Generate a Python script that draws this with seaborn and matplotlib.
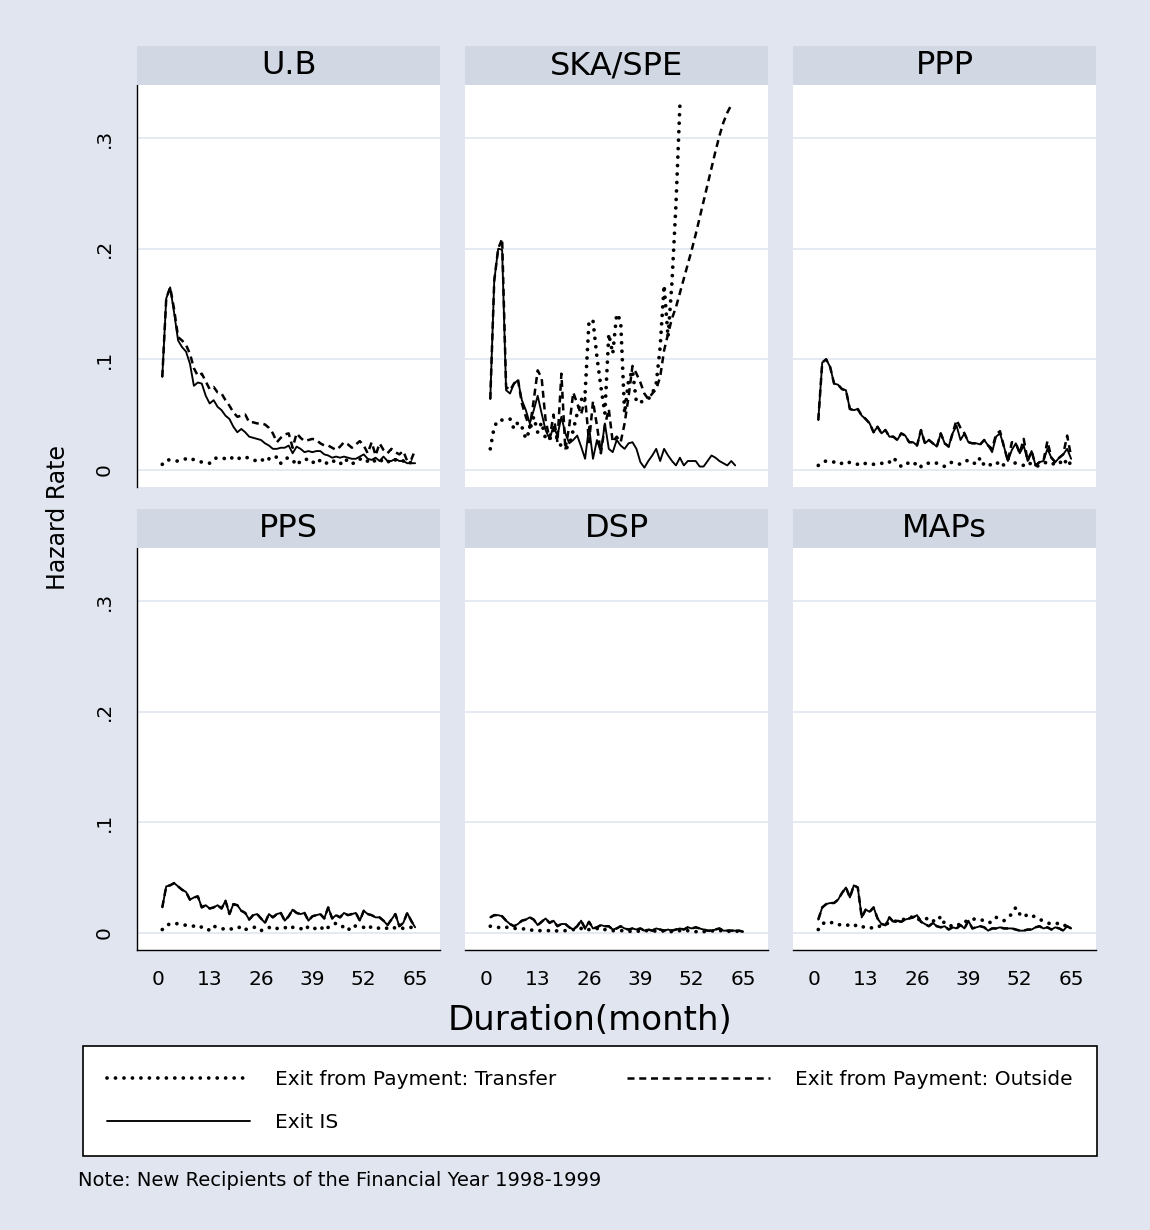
import numpy as np
import pandas as pd
import matplotlib.pyplot as plt
from matplotlib.lines import Line2D
import seaborn as sns

nan = np.nan
months = list(range(1, 66))
panels = ['U.B', 'SKA/SPE', 'PPP', 'PPS', 'DSP', 'MAPs']
series = ['Exit from Payment: Transfer', 'Exit from Payment: Outside', 'Exit IS']

ub_transfer = [.005, .009, .009, .008, .008, .009, .010, .011, .009, .008,
               .007, .007, .006, .010, .011, .011, .010, .009, .012, .010,
               .011, .012, .010, .009, .008, .010, .007, .010, .009, .012,
               .006, .010, .011, .009, .004, .008, .010, .009, .006, .010,
               .008, .005, .007, .009, .006, .005, .010, .008, .005, .008,
               .010, .007, .008, .006, .009, .007, .010, .008, .006, .009,
               .010, .008, .009, .006, .005]
ub_outside = [.084, .155, .165, .145, .120, .117, .113, .105, .092, .085,
              .087, .080, .073, .075, .070, .069, .063, .058, .052, .048,
              .049, .050, .043, .043, .042, .042, .041, .038, .033, .025,
              .029, .032, .033, .020, .033, .029, .026, .027, .028, .027,
              .024, .022, .022, .020, .018, .021, .025, .023, .020, .023,
              .026, .022, .015, .025, .013, .024, .018, .015, .019, .016,
              .014, .017, .008, .009, .018]
ub_exit = [.084, .155, .165, .142, .117, .111, .107, .096, .076, .079,
           .078, .067, .060, .063, .057, .054, .049, .046, .039, .034,
           .037, .034, .030, .029, .028, .027, .024, .022, .019, .019,
           .020, .020, .022, .015, .021, .019, .016, .017, .016, .017,
           .017, .014, .013, .011, .012, .011, .012, .011, .010, .010,
           .012, .014, .010, .009, .011, .008, .012, .008, .008, .010,
           .008, .008, .006, .006, .006]

ska_transfer = [.019, .039, .045, .045, .046, .046, .037, .043, .039, .028,
                .036, .048, .034, .043, .028, .027, .036, .028, .021, .019,
                .022, .036, .051, .063, .069, .135, .135, .102, .075, .051,
                .123, .105, .141, .135, .051, .081, .090, .061, .061, .063,
                .064, .069, .078, .111, .167, .120, .170, .240, .330] + [nan] * 16
ska_outside = [.064, .171, .200, .209, .075, .072, .078, .082, .060, .048,
               .038, .063, .090, .083, .045, .028, .050, .025, .087, .018,
               .040, .070, .060, .050, .065, .025, .062, .040, .015, .040,
               .055, .025, .030, .025, .042, .066, .094, .087, .079, .069,
               .064, .069, .073, .084, .108, .123, .137, .147, .160, .173,
               .186, .199, .213, .228, .243, .258, .273, .288, .302, .314,
               .323, .330] + [nan] * 3
ska_exit = [.064, .171, .200, .199, .072, .069, .078, .081, .063, .054,
            .042, .054, .067, .051, .036, .028, .039, .031, .048, .033,
            .024, .027, .031, .021, .010, .039, .010, .027, .016, .042,
            .019, .016, .027, .022, .019, .024, .025, .019, .007, .002,
            .008, .013, .019, .008, .019, .013, .008, .004, .011, .004,
            .008, .008, .008, .003, .003, .008, .013, .011, .008, .006,
            .004, .008, .004] + [nan] * 2

ppp_transfer = [.004, .007, .008, .008, .007, .005, .006, .005, .007, .006,
                .005, .004, .006, .006, .005, .005, .006, .005, .007, .011,
                .007, .003, .006, .006, .004, .007, .003, .006, .006, .007,
                .006, .005, .003, .006, .007, .006, .005, .007, .009, .007,
                .005, .011, .004, .003, .006, .005, .008, .004, .010, .007,
                .006, .005, .004, .007, .005, .003, .004, .006, .007, .005,
                .006, .008, .004, .010, .004]
ppp_outside = [.045, .097, .100, .093, .078, .077, .073, .072, .055, .054,
               .055, .049, .046, .042, .034, .039, .033, .036, .030, .030,
               .027, .033, .031, .025, .025, .022, .036, .024, .027, .024,
               .021, .033, .024, .021, .033, .045, .038, .033, .025, .024,
               .024, .023, .027, .022, .019, .032, .035, .021, .008, .025,
               .024, .015, .028, .008, .017, .004, .007, .008, .026, .011,
               .007, .011, .014, .031, .012]
ppp_exit = [.045, .097, .100, .093, .078, .077, .073, .072, .055, .054,
            .055, .049, .046, .042, .034, .039, .033, .036, .030, .030,
            .027, .033, .031, .025, .025, .022, .036, .024, .027, .024,
            .021, .033, .024, .021, .033, .040, .027, .033, .025, .024,
            .024, .023, .027, .022, .016, .030, .033, .021, .008, .018,
            .024, .015, .022, .008, .017, .004, .007, .008, .019, .011,
            .007, .011, .014, .019, .010]

pps_transfer = [.003, .007, .008, .009, .008, .007, .007, .007, .006, .007,
                .005, .005, .002, .006, .005, .004, .003, .004, .003, .004,
                .006, .003, .004, .005, .005, .002, .004, .005, .003, .004,
                .004, .005, .003, .005, .005, .004, .002, .006, .004, .004,
                .006, .002, .005, .006, .009, .007, .005, .002, .007, .006,
                .005, .005, .003, .006, .005, .004, .005, .004, .003, .005,
                .005, .004, .004, .005, .003]
pps_exit = [.023, .042, .043, .045, .042, .039, .037, .030, .032, .033,
            .023, .025, .022, .023, .025, .022, .029, .017, .026, .025,
            .020, .018, .012, .016, .017, .013, .009, .017, .014, .017,
            .018, .011, .015, .021, .018, .017, .018, .011, .015, .016,
            .017, .013, .023, .013, .016, .014, .018, .016, .017, .018,
            .011, .020, .017, .016, .014, .014, .011, .007, .012, .017,
            .006, .009, .018, .011, .005]
# the Outside curve sits right under Exit IS in these panels
pps_outside = list(pps_exit)

dsp_transfer = [.006, .005, .005, .004, .005, .005, .004, .004, .004, .003,
                .002, .003, .002, .002, .002, .002, .001, .002, .002, .002,
                .002, .003, .002, .004, .002, .003, .003, .004, .002, .003,
                .002, .002, .002, .002, .002, .001, .002, .002, .001, .002,
                .002, .001, .002, .001, .002, .002, .001, .002, .002, .001,
                .002, .002, .001, .002, .001, .002, .002, .001, .002, .002,
                .001, .002, .001, .002, .001]
dsp_exit = [.014, .016, .016, .015, .011, .008, .006, .008, .011, .012,
            .014, .012, .007, .010, .013, .009, .011, .006, .008, .008,
            .005, .003, .006, .011, .004, .010, .004, .005, .007, .006,
            .006, .003, .004, .006, .004, .003, .004, .003, .004, .002,
            .003, .002, .004, .003, .002, .003, .002, .003, .004, .003,
            .005, .004, .005, .004, .003, .002, .002, .003, .004, .002,
            .002, .002, .002, .002, .001]
dsp_outside = list(dsp_exit)

maps_transfer = [.003, .008, .010, .010, .008, .007, .008, .007, .007, .008,
                 .005, .005, .006, .005, .004, .005, .007, .008, .009, .010,
                 .011, .011, .013, .013, .015, .013, .011, .012, .014, .011,
                 .010, .015, .008, .007, .006, .008, .007, .010, .011, .012,
                 .013, .012, .011, .009, .010, .014, .013, .011, .014, .017,
                 .023, .017, .014, .017, .016, .014, .012, .011, .009, .008,
                 .008, .009, .008, .005, .002]
maps_exit = [.012, .023, .026, .027, .027, .030, .036, .041, .032, .043,
             .041, .014, .021, .019, .023, .013, .008, .007, .014, .010,
             .011, .010, .012, .013, .014, .016, .010, .008, .006, .009,
             .006, .005, .006, .003, .005, .004, .007, .004, .011, .004,
             .005, .006, .005, .002, .004, .004, .005, .004, .004, .004,
             .003, .002, .002, .003, .003, .005, .006, .004, .005, .003,
             .005, .004, .002, .006, .004]
maps_outside = list(maps_exit)

panel_data = {
    'U.B': [ub_transfer, ub_outside, ub_exit],
    'SKA/SPE': [ska_transfer, ska_outside, ska_exit],
    'PPP': [ppp_transfer, ppp_outside, ppp_exit],
    'PPS': [pps_transfer, pps_outside, pps_exit],
    'DSP': [dsp_transfer, dsp_outside, dsp_exit],
    'MAPs': [maps_transfer, maps_outside, maps_exit],
}

rows = []
for p in panels:
    for s, vals in zip(series, panel_data[p]):
        for m, v in zip(months, vals):
            rows.append((p, s, m, v))
df = pd.DataFrame(rows, columns=['panel', 'series', 'month', 'rate']).dropna()

BG = '#E0E5F0'
STRIP = '#D1D8E4'
GRID = '#E0E5EF'

sns.set_style('white')
plt.rcParams['font.family'] = ['DejaVu Sans']
plt.rcParams['text.color'] = 'black'
plt.rcParams['xtick.color'] = 'black'
plt.rcParams['ytick.color'] = 'black'
plt.rcParams['xtick.labelcolor'] = 'black'
plt.rcParams['ytick.labelcolor'] = 'black'

line_styles = {
    series[0]: dict(linewidth=2.7, linestyle=(0, (0.01, 2.25)), dash_capstyle='round'),
    series[1]: dict(linewidth=1.8, linestyle=(0, (2.8, 1.9))),
    series[2]: dict(linewidth=1.35, linestyle='-'),
}

W, H = 1150, 1230
fig = plt.figure(figsize=(11.5, 12.3), dpi=100, facecolor=BG)

col_left = [137, 465, 793]
row_top = [85, 548]
ax_w, ax_h, strip_h = 303, 402, 39

for i, p in enumerate(panels):
    r, c = divmod(i, 3)
    left = col_left[c] / W
    bottom = 1 - (row_top[r] + ax_h) / H
    ax = fig.add_axes([left, bottom, ax_w / W, ax_h / H])
    ax.set_facecolor('white')
    sub = df[df['panel'] == p]
    for s in series:
        sns.lineplot(data=sub[sub['series'] == s], x='month', y='rate', ax=ax,
                     color='black', estimator=None, legend=False)
        line = ax.lines[-1]
        line.set_linewidth(line_styles[s]['linewidth'])
        line.set_linestyle(line_styles[s]['linestyle'])
        if 'dash_capstyle' in line_styles[s]:
            line.set_dash_capstyle('round')
    ax.set_xlim(-5.4, 71.3)
    ax.set_ylim(-0.0155, 0.348)
    ax.set_xlabel('')
    ax.set_ylabel('')
    ax.set_yticks([0, .1, .2, .3])
    ax.set_xticks([0, 13, 26, 39, 52, 65])
    ax.grid(axis='y', color=GRID, linewidth=1.2)
    ax.grid(axis='x', visible=False)
    ax.set_axisbelow(True)
    for sp in ['top', 'right']:
        ax.spines[sp].set_visible(False)
    if c == 0:
        ax.spines['left'].set_color('black')
        ax.spines['left'].set_linewidth(1.0)
        ax.set_yticklabels(['0', '.1', '.2', '.3'], rotation=90, va='center')
        ax.tick_params(axis='y', length=9.5, width=1.0, pad=7, labelsize=14.5, color='black')
    else:
        ax.spines['left'].set_visible(False)
        ax.tick_params(axis='y', left=False, labelleft=False)
    if r == 1:
        ax.spines['bottom'].set_color('black')
        ax.spines['bottom'].set_linewidth(1.0)
        ax.tick_params(axis='x', length=8, width=1.0, pad=6.5, labelsize=14.5, color='black')
    else:
        ax.spines['bottom'].set_visible(False)
        ax.tick_params(axis='x', bottom=False, labelbottom=False)

    sax = fig.add_axes([left, 1 - row_top[r] / H, ax_w / W, strip_h / H])
    sax.set_facecolor(STRIP)
    sax.set_xticks([])
    sax.set_yticks([])
    for sp in sax.spines.values():
        sp.set_visible(False)
    sax.text(0.5, 0.5, p, ha='center', va='center', fontsize=23, color='black',
             transform=sax.transAxes)

fig.text(58 / W, 1 - 517 / H, 'Hazard Rate', rotation=90, ha='center', va='center', fontsize=17)
fig.text(590 / W, 1 - 1020 / H, 'Duration(month)', ha='center', va='center', fontsize=24.5)

handles = [Line2D([], [], color='black', **line_styles[series[0]]),
           Line2D([], [], color='black', **line_styles[series[2]]),
           Line2D([], [], color='black', **line_styles[series[1]])]
labels = [series[0], series[2], series[1]]
leg = fig.legend(handles, labels, ncol=2, mode='expand', loc='center',
                 bbox_to_anchor=(83 / W, 1 - 1155 / H, (1097 - 83) / W, 108 / H),
                 borderaxespad=0, fontsize=14.5, handlelength=7.1, handletextpad=1.25,
                 labelspacing=1.15, borderpad=1.2, fancybox=False, framealpha=1,
                 facecolor='white', edgecolor='black')
leg.get_frame().set_linewidth(1.2)

fig.text(78 / W, 1 - 1181 / H, 'Note: New Recipients of the Financial Year 1998-1999',
         ha='left', va='center', fontsize=14)

fig.savefig('out.png', dpi=100, facecolor=BG)
